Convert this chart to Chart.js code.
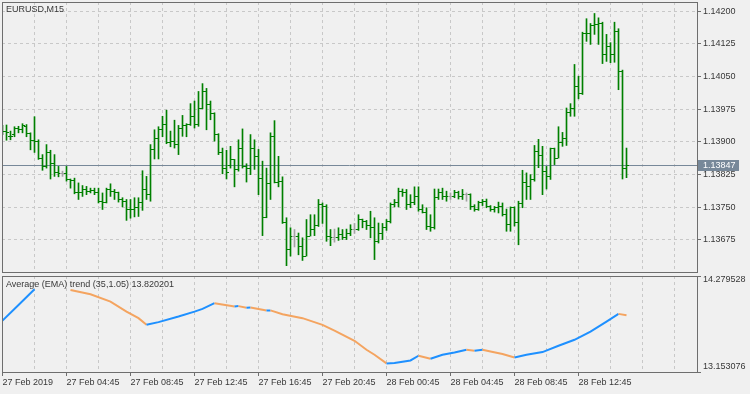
<!DOCTYPE html>
<html><head><meta charset="utf-8">
<script src="https://cdn.jsdelivr.net/npm/chart.js@4.4.1/dist/chart.umd.min.js"></script>
<style>
html,body{margin:0;padding:0;background:#f0f0f0;width:750px;height:394px;overflow:hidden;position:relative;}
canvas{position:absolute;left:0;}
#main{top:0;}
#ind{top:274px;}
.lbl{position:absolute;font-family:"Liberation Sans",Arial,sans-serif;font-size:9px;line-height:11px;color:#383838;white-space:nowrap;}
</style></head><body>
<canvas id="main" width="750" height="274"></canvas>
<canvas id="ind" width="750" height="120"></canvas>
<div class="lbl" style="left:6px;top:4px">EURUSD,M15</div>
<div class="lbl" style="left:6px;top:279px">Average (EMA) trend (35,1.05) 13.820201</div>
<script>
// ---- EURUSD M15 bars (27 Feb 2019 00:45 onward) ----
const opens = [1.13928,1.13925,1.13912,1.13917,1.13932,1.13928,1.13936,1.13919,1.13904,1.13902,1.13861,1.13844,1.13876,1.13850,1.13829,1.13827,1.13827,1.13814,1.13812,1.13785,1.13783,1.13791,1.13787,1.13789,1.13785,1.13764,1.13760,1.13791,1.13787,1.13783,1.13768,1.13764,1.13745,1.13746,1.13749,1.13760,1.13792,1.13779,1.13882,1.13909,1.13928,1.13940,1.13898,1.13902,1.13894,1.13932,1.13938,1.13940,1.13959,1.13940,1.13978,1.14016,1.13986,1.13965,1.13917,1.13875,1.13838,1.13845,1.13860,1.13837,1.13886,1.13844,1.13840,1.13886,1.13867,1.13817,1.13726,1.13804,1.13912,1.13808,1.13810,1.13716,1.13653,1.13684,1.13684,1.13661,1.13638,1.13684,1.13699,1.13708,1.13756,1.13752,1.13684,1.13680,1.13680,1.13687,1.13680,1.13691,1.13700,1.13700,1.13722,1.13718,1.13708,1.13703,1.13672,1.13691,1.13703,1.13718,1.13756,1.13762,1.13787,1.13783,1.13756,1.13760,1.13775,1.13745,1.13739,1.13706,1.13703,1.13772,1.13785,1.13775,1.13774,1.13774,1.13783,1.13775,1.13779,1.13779,1.13752,1.13745,1.13760,1.13764,1.13752,1.13746,1.13749,1.13752,1.13733,1.13710,1.13749,1.13716,1.13759,1.13808,1.13797,1.13814,1.13879,1.13869,1.13833,1.13821,1.13884,1.13863,1.13899,1.13907,1.13968,1.13978,1.14028,1.14011,1.14150,1.14149,1.14167,1.14170,1.14172,1.14101,1.14120,1.14101,1.14154,1.14062,1.13838];
const highs = [1.13938,1.13939,1.13925,1.13935,1.13936,1.13942,1.13940,1.13921,1.13958,1.13905,1.13871,1.13894,1.13881,1.13871,1.13844,1.13833,1.13844,1.13815,1.13817,1.13806,1.13800,1.13798,1.13794,1.13794,1.13794,1.13783,1.13794,1.13804,1.13791,1.13785,1.13772,1.13768,1.13768,1.13772,1.13772,1.13834,1.13821,1.13894,1.13928,1.13935,1.13959,1.13973,1.13925,1.13950,1.13938,1.13961,1.13942,1.13988,1.13994,1.14016,1.14034,1.14023,1.13994,1.13967,1.13919,1.13886,1.13881,1.13890,1.13860,1.13905,1.13930,1.13850,1.13917,1.13905,1.13883,1.13856,1.13840,1.13921,1.13949,1.13867,1.13820,1.13726,1.13703,1.13699,1.13691,1.13680,1.13722,1.13733,1.13733,1.13768,1.13760,1.13756,1.13699,1.13700,1.13703,1.13699,1.13700,1.13710,1.13713,1.13733,1.13723,1.13720,1.13741,1.13726,1.13714,1.13713,1.13722,1.13760,1.13768,1.13794,1.13792,1.13791,1.13779,1.13797,1.13797,1.13756,1.13749,1.13733,1.13792,1.13792,1.13794,1.13787,1.13783,1.13789,1.13787,1.13791,1.13783,1.13781,1.13756,1.13764,1.13768,1.13769,1.13754,1.13752,1.13762,1.13760,1.13746,1.13751,1.13751,1.13764,1.13835,1.13829,1.13825,1.13892,1.13906,1.13890,1.13844,1.13886,1.13886,1.13935,1.13922,1.13978,1.13988,1.14078,1.14051,1.14152,1.14183,1.14172,1.14195,1.14185,1.14175,1.14147,1.14128,1.14175,1.14160,1.14065,1.13886];
const lows = [1.13917,1.13904,1.13905,1.13912,1.13921,1.13921,1.13912,1.13882,1.13876,1.13860,1.13835,1.13840,1.13815,1.13821,1.13820,1.13821,1.13810,1.13794,1.13781,1.13768,1.13775,1.13779,1.13783,1.13779,1.13760,1.13745,1.13760,1.13775,1.13768,1.13762,1.13751,1.13720,1.13725,1.13728,1.13729,1.13743,1.13768,1.13764,1.13861,1.13861,1.13912,1.13896,1.13889,1.13886,1.13871,1.13913,1.13912,1.13938,1.13932,1.13936,1.13976,1.13928,1.13951,1.13902,1.13871,1.13827,1.13815,1.13840,1.13797,1.13833,1.13840,1.13808,1.13825,1.13837,1.13779,1.13685,1.13726,1.13768,1.13806,1.13797,1.13713,1.13616,1.13638,1.13659,1.13641,1.13628,1.13638,1.13684,1.13685,1.13706,1.13713,1.13672,1.13662,1.13670,1.13674,1.13676,1.13676,1.13685,1.13690,1.13697,1.13703,1.13699,1.13680,1.13630,1.13668,1.13676,1.13697,1.13714,1.13751,1.13751,1.13775,1.13745,1.13749,1.13756,1.13741,1.13737,1.13699,1.13695,1.13700,1.13768,1.13768,1.13764,1.13768,1.13772,1.13769,1.13768,1.13764,1.13745,1.13741,1.13743,1.13754,1.13749,1.13741,1.13739,1.13737,1.13730,1.13695,1.13695,1.13707,1.13664,1.13749,1.13768,1.13768,1.13810,1.13841,1.13779,1.13792,1.13814,1.13848,1.13863,1.13890,1.13892,1.13959,1.13959,1.13999,1.14009,1.14131,1.14124,1.14147,1.14124,1.14080,1.14085,1.14082,1.14083,1.14020,1.13815,1.13818];
const closes = [1.13925,1.13921,1.13913,1.13932,1.13928,1.13938,1.13919,1.13904,1.13902,1.13861,1.13844,1.13876,1.13850,1.13829,1.13827,1.13827,1.13814,1.13812,1.13785,1.13783,1.13791,1.13787,1.13789,1.13785,1.13764,1.13760,1.13791,1.13787,1.13783,1.13768,1.13764,1.13745,1.13746,1.13749,1.13760,1.13792,1.13779,1.13882,1.13909,1.13928,1.13940,1.13898,1.13902,1.13894,1.13932,1.13938,1.13940,1.13959,1.13940,1.13978,1.14016,1.13986,1.13965,1.13917,1.13875,1.13838,1.13829,1.13860,1.13837,1.13886,1.13844,1.13840,1.13886,1.13867,1.13817,1.13726,1.13804,1.13912,1.13808,1.13810,1.13716,1.13653,1.13684,1.13684,1.13661,1.13638,1.13684,1.13699,1.13708,1.13756,1.13752,1.13684,1.13680,1.13680,1.13687,1.13680,1.13691,1.13700,1.13700,1.13722,1.13718,1.13708,1.13703,1.13672,1.13691,1.13703,1.13718,1.13756,1.13762,1.13787,1.13783,1.13756,1.13760,1.13775,1.13745,1.13739,1.13706,1.13703,1.13772,1.13785,1.13775,1.13774,1.13774,1.13783,1.13775,1.13779,1.13779,1.13752,1.13745,1.13760,1.13764,1.13752,1.13746,1.13749,1.13752,1.13733,1.13710,1.13749,1.13716,1.13759,1.13808,1.13797,1.13814,1.13879,1.13869,1.13833,1.13821,1.13884,1.13863,1.13899,1.13907,1.13968,1.13978,1.14028,1.14011,1.14150,1.14149,1.14167,1.14170,1.14172,1.14101,1.14120,1.14101,1.14154,1.14062,1.13838,1.13847];
const lastPrice = [1.13847];
const priceRange = [1.136015, 1.1422135];
const priceTicks = [1.13675, 1.13750, 1.13825, 1.13900, 1.13975, 1.14050, 1.14125, 1.14200];
const barRange = [-0.125, 173.625];
const gridBars = [0,8,16,24,32,40,48,56,64,72,80,88,96,104,112,120,128,136,144,152,160,168];
const timeLabelBars = [0,16,32,48,64,80,96,112,128,144];
const timeLabels = ['27 Feb 2019','27 Feb 04:45','27 Feb 08:45','27 Feb 12:45','27 Feb 16:45','27 Feb 20:45','28 Feb 00:45','28 Feb 04:45','28 Feb 08:45','28 Feb 12:45'];
// ---- Average (EMA) trend indicator ----
const emaBars = [0,4,8,12,17,22,27,31,34,36,39,44,48,50,53,58,59,61,62,66,67,70,75,80,83,88,91,93,96,98,102,104,107,110,113,116,118,120,122,125,128,131,135,139,143,147,151,154,156];
const emaValues = [13.7567,13.9403,14.1240,null,14.1158,14.0655,13.9789,13.8619,13.7848,13.7064,13.7380,13.8034,13.8619,13.8935,13.9602,13.9204,13.9263,13.9064,13.9087,13.8736,13.8760,13.8315,13.7848,13.7064,13.6397,13.5192,13.4139,13.3554,13.2537,13.2583,13.2888,13.3437,13.3086,13.3554,13.3823,13.4139,13.4022,13.4139,13.3940,13.3636,13.3239,13.3554,13.3870,13.4607,13.5309,13.6280,13.7449,13.8350,13.820201];
const emaTrend = [1,1,1,0,-1,-1,-1,-1,-1,-1,1,1,1,1,1,-1,1,-1,1,-1,1,-1,-1,-1,-1,-1,-1,-1,-1,1,1,1,-1,1,1,1,-1,1,-1,-1,-1,1,1,1,1,1,1,1,-1];
const indRange = [13.153076, 14.279528];

const GREEN = '#008000', DOJI = '#a4a4a4', GRID = '#c8c8c8', FRAME = '#6e6e6e', TEXT = '#383838', BID = '#778899', BLUE = '#1e90ff', ORANGE = '#f4a460', CLEAR = 'rgba(0,0,0,0)';
Chart.defaults.font.family = '"Liberation Sans", Arial, sans-serif';
Chart.defaults.font.size = 9;
Chart.defaults.color = TEXT;

const noPad = s => { s.paddingTop = 0; s.paddingBottom = 0; s.paddingLeft = 0; s.paddingRight = 0; };

const frame = { id: 'frame', afterDraw(chart) {
  const a = chart.chartArea, c = chart.ctx;
  c.save(); c.strokeStyle = FRAME; c.lineWidth = 1;
  c.strokeRect(Math.round(a.left) + 0.5, Math.round(a.top) + 0.5, Math.round(a.right - a.left), Math.round(a.bottom - a.top));
  c.restore();
}};

const ohlcTicks = { id: 'ohlcTicks', afterDatasetsDraw(chart) {
  const xs = chart.scales.x, ys = chart.scales.y, c = chart.ctx, a = chart.chartArea;
  c.save(); c.beginPath(); c.rect(a.left, a.top, a.right - a.left, a.bottom - a.top); c.clip();
  for (let i = 0; i < opens.length; i++) {
    const px = Math.floor(xs.getPixelForValue(i));
    c.fillStyle = opens[i] === closes[i] ? DOJI : GREEN;
    c.fillRect(px - 2, Math.floor(ys.getPixelForValue(opens[i])), 2, 1);
    c.fillRect(px + 1, Math.floor(ys.getPixelForValue(closes[i])), 2, 1);
  }
  c.restore();
}};

const bidLine = { id: 'bidLine',
  beforeDatasetsDraw(chart) {
    const a = chart.chartArea, c = chart.ctx;
    const y = Math.floor(chart.scales.y.getPixelForValue(lastPrice[0])) + 0.5;
    c.save(); c.strokeStyle = BID; c.lineWidth = 1;
    c.beginPath(); c.moveTo(a.left, y); c.lineTo(a.right, y); c.stroke(); c.restore();
  },
  afterDraw(chart) {
    const a = chart.chartArea, c = chart.ctx;
    const y = Math.floor(chart.scales.y.getPixelForValue(lastPrice[0]));
    c.save(); c.fillStyle = BID;
    c.fillRect(Math.round(a.right) + 1, y - 5, 41, 11);
    c.fillStyle = '#ffffff'; c.font = '9px "Liberation Sans", Arial, sans-serif';
    c.textBaseline = 'middle'; c.textAlign = 'left';
    c.fillText(lastPrice[0].toFixed(5), Math.round(a.right) + 6, y + 1);
    c.restore();
  }
};

new Chart(document.getElementById('main'), {
  type: 'bar',
  data: { datasets: [{
    data: opens.map((o, i) => ({ x: i, y: [lows[i], highs[i]] })),
    backgroundColor: ctx => opens[ctx.dataIndex] === closes[ctx.dataIndex] ? DOJI : GREEN,
    barThickness: 1, borderWidth: 0, borderSkipped: false
  }]},
  options: {
    responsive: false, animation: false, events: [],
    layout: { padding: { left: 2, top: 2, right: 0, bottom: 2 } },
    plugins: { legend: { display: false }, tooltip: { enabled: false } },
    scales: {
      x: { type: 'linear', min: barRange[0], max: barRange[1], offset: false,
        afterBuildTicks: s => { s.ticks = gridBars.filter(v => v > 0).map(v => ({ value: v })); },
        afterFit: s => { s.height = 0; noPad(s); },
        ticks: { display: false, autoSkip: false },
        grid: { offset: false, color: GRID, lineWidth: 1, drawTicks: false },
        border: { display: true, color: CLEAR, dash: [3, 3] } },
      y: { position: 'right', min: priceRange[0], max: priceRange[1],
        afterBuildTicks: s => { s.ticks = priceTicks.map(v => ({ value: v })); },
        afterFit: s => { s.width = 53; noPad(s); },
        ticks: { autoSkip: false, padding: 2, color: TEXT, callback: v => Number(v).toFixed(5) },
        grid: { color: GRID, lineWidth: 1, tickLength: 4, tickColor: FRAME },
        border: { display: true, color: CLEAR, dash: [3, 3] } }
    }
  },
  plugins: [bidLine, ohlcTicks, frame]
});

new Chart(document.getElementById('ind'), {
  type: 'line',
  data: { datasets: [{
    data: emaBars.map((b, i) => ({ x: b, y: emaValues[i] })),
    borderWidth: 2, pointRadius: 0, tension: 0, spanGaps: false, fill: false,
    borderColor: BLUE,
    segment: { borderColor: ctx => emaTrend[ctx.p1DataIndex] > 0 ? BLUE : ORANGE }
  }]},
  options: {
    responsive: false, animation: false, events: [],
    layout: { padding: { left: 2, top: 2, right: 0, bottom: 0 } },
    plugins: { legend: { display: false }, tooltip: { enabled: false } },
    scales: {
      x: { type: 'linear', min: barRange[0], max: barRange[1],
        afterBuildTicks: s => { s.ticks = gridBars.map(v => ({ value: v })); },
        afterFit: s => { s.height = 22; noPad(s); },
        ticks: { autoSkip: false, maxRotation: 0, align: 'start', padding: 1, color: TEXT,
          callback: v => { const j = timeLabelBars.indexOf(v); return j >= 0 ? timeLabels[j] : ''; } },
        grid: { color: GRID, lineWidth: 1, tickLength: 4,
          tickColor: ctx => (ctx.tick && timeLabelBars.indexOf(ctx.tick.value) >= 0) ? FRAME : CLEAR },
        border: { display: true, color: CLEAR, dash: [3, 3] } },
      y: { position: 'right', min: indRange[0], max: indRange[1],
        afterBuildTicks: s => { const r = indRange[1] - indRange[0];
          s.ticks = [{ value: indRange[1] }, { value: indRange[0] }, { value: indRange[1] - r * 4 / 96 }, { value: indRange[0] + r * 5 / 96 }]; },
        afterFit: s => { s.width = 53; noPad(s); },
        ticks: { autoSkip: false, padding: 2, color: TEXT,
          callback: (v, i) => i === 2 ? indRange[1].toFixed(6) : (i === 3 ? indRange[0].toFixed(6) : '') },
        grid: { drawOnChartArea: false, tickLength: 4, tickColor: ctx => ctx.index < 2 ? FRAME : CLEAR },
        border: { display: false } }
    }
  },
  plugins: [frame]
});
</script>
</body></html>
